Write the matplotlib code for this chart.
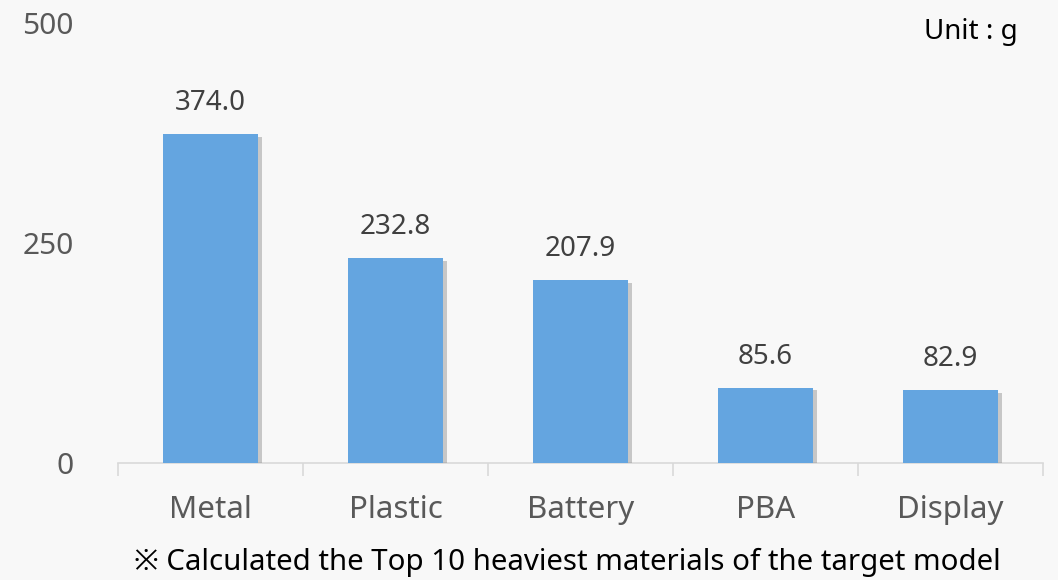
import matplotlib.pyplot as plt
import matplotlib.patheffects as pe
from matplotlib.ticker import FixedLocator

plt.rcParams['font.family'] = ['Noto Sans', 'Noto Sans CJK KR', 'DejaVu Sans']

# Data
materials = ['Metal', 'Plastic', 'Battery', 'PBA', 'Display']
weights = [374.0, 232.8, 207.9, 85.6, 82.9]
y_ticks = [0, 250, 500]

bg = '#f8f8f8'
bar_color = '#64a5e0'
text_color = '#595959'

fig = plt.figure(figsize=(10.58, 5.80), dpi=100, facecolor=bg)
ax = fig.add_axes([0.1115, 0.2017, 0.8743, 0.7586], facecolor=bg)

x = range(len(materials))
bars = ax.bar(x, weights, width=0.51, color=bar_color, zorder=3)
for b in bars:
    b.set_path_effects([pe.SimplePatchShadow(offset=(3, -2), shadow_rgbFace='#7f7f7f', alpha=0.4),
                        pe.Normal()])

for xi, v in zip(x, weights):
    ax.annotate(f'{v:.1f}', (xi, v), xytext=(0, 12), textcoords='offset points',
                ha='center', va='bottom', fontsize=20, color='#404040')

ax.set_xlim(-0.5, len(materials) - 0.5)
ax.set_ylim(0, 500)
ax.set_yticks(y_ticks)
ax.set_xticks(list(x))
ax.set_xticklabels(materials)
ax.xaxis.set_minor_locator(FixedLocator([i - 0.5 for i in range(len(materials) + 1)]))

ax.tick_params(axis='x', which='major', length=0, pad=23, labelsize=22.5, labelcolor=text_color)
ax.tick_params(axis='x', which='minor', length=9, width=1.2, color='#d9d9d9', direction='out')
ax.tick_params(axis='y', length=0, pad=32, labelsize=21.5, labelcolor=text_color)

for s in ['top', 'right', 'left']:
    ax.spines[s].set_visible(False)
ax.spines['bottom'].set_color('#d9d9d9')
ax.spines['bottom'].set_linewidth(1.2)

fig.text(0.962, 0.945, 'Unit : g', ha='right', va='center', fontsize=20, color='black')
fig.text(0.536, 0.030, '※ Calculated the Top 10 heaviest materials of the target model',
         ha='center', va='center', fontsize=21.2, color='black')

fig.savefig('out.png', dpi=100, facecolor=bg)
